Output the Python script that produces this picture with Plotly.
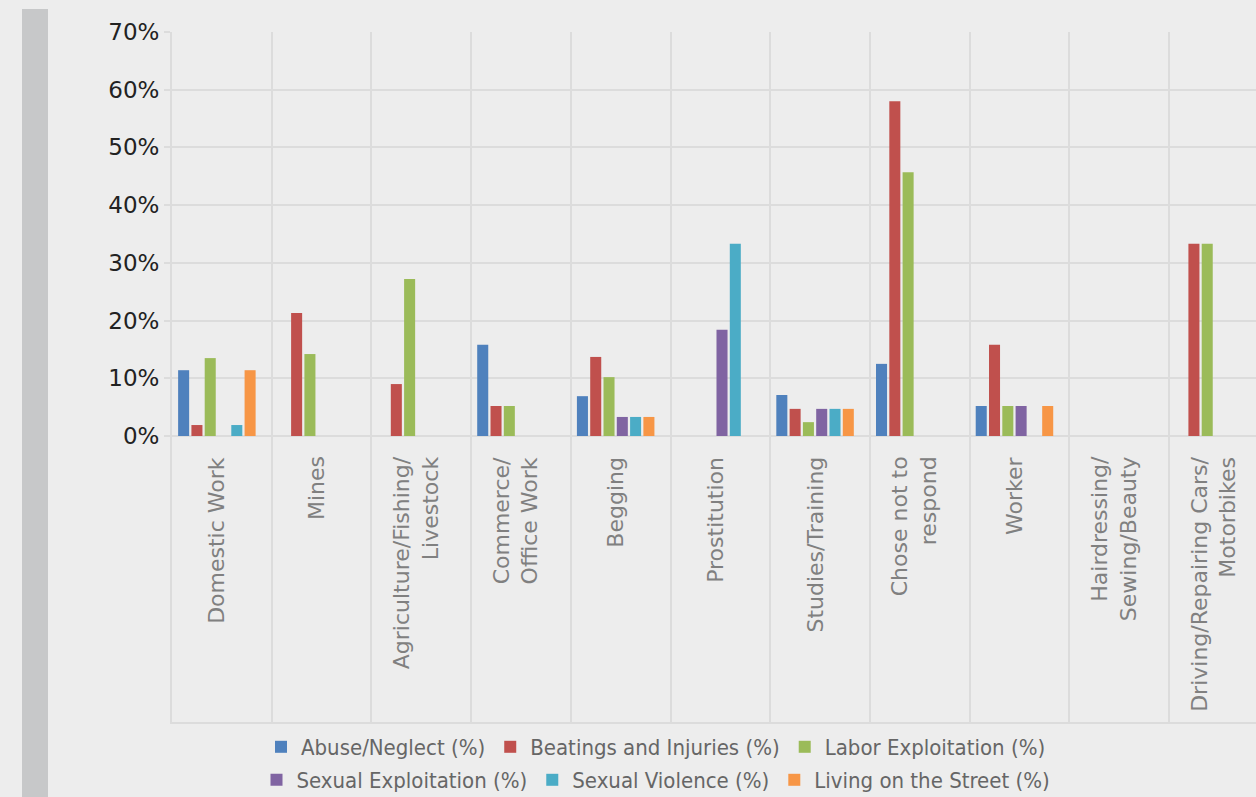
import plotly.graph_objects as go

categories = ["Domestic Work", "Mines", "Agriculture/Fishing/<br>Livestock",
              "Commerce/<br>Office Work", "Begging", "Prostitution",
              "Studies/Training", "Chose not to<br>respond", "Worker",
              "Hairdressing/<br>Sewing/Beauty", "Driving/Repairing Cars/<br>Motorbikes"]

series_names = ["Abuse/Neglect (%)", "Beatings and Injuries (%)", "Labor Exploitation (%)",
                "Sexual Exploitation (%)", "Sexual Violence (%)", "Living on the Street (%)"]

abuse = [11.4, 0, 0, 15.8, 6.9, 0, 7.1, 12.5, 5.2, 0, 0]
beatings = [1.9, 21.3, 9.0, 5.2, 13.7, 0, 4.7, 58.0, 15.8, 0, 33.3]
labor = [13.5, 14.2, 27.2, 5.2, 10.2, 0, 2.4, 45.7, 5.2, 0, 33.3]
sexual_exp = [0, 0, 0, 0, 3.3, 18.4, 4.7, 0, 5.2, 0, 0]
sexual_viol = [1.9, 0, 0, 0, 3.3, 33.3, 4.7, 0, 0, 0, 0]
street = [11.4, 0, 0, 0, 3.3, 0, 4.7, 0, 5.2, 0, 0]

y_ticks = [0, 10, 20, 30, 40, 50, 60, 70]
y_tick_labels = [f"{v}%" for v in y_ticks]

colors = ["#4f81bd", "#c0504d", "#9bbb59", "#8064a2", "#4bacc6", "#f79646"]
values = [abuse, beatings, labor, sexual_exp, sexual_viol, street]

W, H = 1256, 797
ML, MT, MB = 172, 32, 75
plot_w = W - ML
plot_h = H - MT - MB
cat_px = 99.7
n = len(categories)
pos = list(range(n))
shift = -0.05

fig = go.Figure()
for i, (name, vals, col) in enumerate(zip(series_names, values, colors)):
    fig.add_trace(go.Bar(
        x=[p + shift for p in pos], y=vals, name=name,
        marker=dict(color=col, line=dict(width=0)),
        legend="legend" if i < 3 else "legend2",
    ))

# category labels
for p, lab in zip(pos, categories):
    fig.add_annotation(x=p - 0.05, y=-3.2, xref="x", yref="y", text=lab,
                       textangle=-90, showarrow=False, yanchor="top", xanchor="center",
                       align="right",
                       font=dict(family="DejaVu Sans", size=22, color="#808080"))

grid = "#dcdcdc"
x0 = -0.5
x1 = x0 + plot_w / cat_px
ybot = -(722 - 436) * 70 / 404

legend_font = dict(family="DejaVu Sans Condensed, Liberation Sans Narrow, DejaVu Sans",
                   size=22, color="#666666")

fig.update_layout(
    width=W, height=H,
    margin=dict(l=ML, r=0, t=MT, b=MB, pad=0, autoexpand=False),
    paper_bgcolor="#ededed", plot_bgcolor="#ededed",
    barmode="group", bargap=0.2, bargroupgap=0.17,
    xaxis=dict(type="linear", range=[x0, x1],
               tickvals=[k - 0.5 for k in range(n + 1)],
               showticklabels=False, ticks="",
               showgrid=True, gridcolor=grid, gridwidth=2,
               showline=True, linecolor=grid, linewidth=2, zeroline=False),
    yaxis=dict(range=[ybot, 70], tickvals=y_ticks, ticktext=y_tick_labels,
               showgrid=True, gridcolor=grid, gridwidth=2,
               zeroline=True, zerolinecolor=grid, zerolinewidth=2,
               ticks="outside", ticklen=6, tickcolor=grid, tickwidth=2,
               showline=True, linecolor=grid, linewidth=2,
               tickfont=dict(family="DejaVu Sans", size=23, color="#222222")),
    legend=dict(orientation="h", x=(656 - ML) / plot_w, xanchor="center",
                y=(722 - 747) / plot_h, yanchor="middle", bgcolor="rgba(0,0,0,0)",
                font=legend_font, itemwidth=30, traceorder="normal"),
    legend2=dict(orientation="h", x=(656 - ML) / plot_w, xanchor="center",
                 y=(722 - 780) / plot_h, yanchor="middle", bgcolor="rgba(0,0,0,0)",
                 font=legend_font, itemwidth=30, traceorder="normal"),
    showlegend=True,
)

# left decorative grey band
fig.add_shape(type="rect", xref="paper", yref="paper",
              x0=(22 - ML) / plot_w, x1=(48 - ML) / plot_w,
              y0=(722 - 800) / plot_h, y1=(722 - 9) / plot_h,
              fillcolor="#c7c8c9", line=dict(width=0), layer="above")

fig.write_html("out.html")
